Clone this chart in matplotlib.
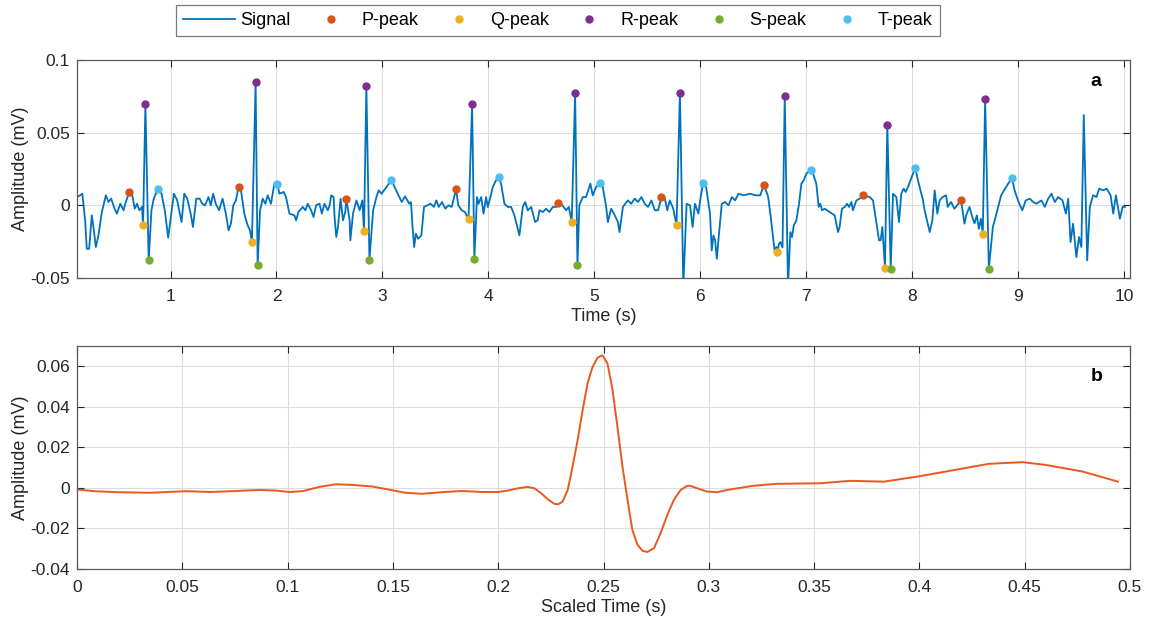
import matplotlib
matplotlib.use("Agg")
import matplotlib.pyplot as plt
from matplotlib.ticker import FuncFormatter

plt.rcParams['font.family'] = ['Liberation Sans', 'DejaVu Sans']
plt.rcParams['axes.unicode_minus'] = False

# ECG signal (panel a)
sig_t = [0.118, 0.146, 0.168, 0.194, 0.21, 0.232, 0.257, 0.273, 0.295, 0.32, 0.352, 0.39, 0.415, 0.44,
         0.472, 0.494, 0.526, 0.557, 0.573, 0.611, 0.636, 0.662, 0.684, 0.706, 0.731, 0.741, 0.763, 0.794,
         0.82, 0.842, 0.883, 0.915, 0.946, 0.978, 1.009, 1.032, 1.063, 1.085, 1.104, 1.13, 1.158, 1.19,
         1.212, 1.243, 1.275, 1.3, 1.326, 1.358, 1.38, 1.402, 1.427, 1.459, 1.491, 1.522, 1.548, 1.57,
         1.592, 1.617, 1.642, 1.665, 1.696, 1.728, 1.75, 1.768, 1.803, 1.822, 1.845, 1.87, 1.895, 1.917,
         1.948, 1.98, 2.008, 2.027, 2.068, 2.09, 2.122, 2.169, 2.185, 2.207, 2.248, 2.273, 2.295, 2.327,
         2.349, 2.374, 2.406, 2.428, 2.453, 2.485, 2.501, 2.517, 2.539, 2.548, 2.564, 2.58, 2.605, 2.627,
         2.649, 2.659, 2.69, 2.697, 2.722, 2.754, 2.785, 2.81, 2.826, 2.848, 2.877, 2.912, 2.943, 2.965,
         2.991, 3.038, 3.085, 3.114, 3.16, 3.182, 3.213, 3.253, 3.269, 3.284, 3.299, 3.315, 3.336, 3.367,
         3.392, 3.423, 3.454, 3.485, 3.509, 3.531, 3.562, 3.593, 3.623, 3.654, 3.694, 3.716, 3.747, 3.778,
         3.812, 3.846, 3.867, 3.892, 3.907, 3.932, 3.954, 3.978, 3.994, 4.019, 4.041, 4.072, 4.097, 4.119,
         4.151, 4.182, 4.214, 4.245, 4.292, 4.324, 4.346, 4.371, 4.403, 4.44, 4.465, 4.481, 4.513, 4.544,
         4.575, 4.607, 4.638, 4.66, 4.686, 4.733, 4.758, 4.786, 4.818, 4.84, 4.858, 4.89, 4.921, 4.962,
         4.984, 5.016, 5.054, 5.079, 5.111, 5.127, 5.158, 5.184, 5.222, 5.237, 5.269, 5.316, 5.348, 5.38,
         5.411, 5.443, 5.475, 5.506, 5.538, 5.57, 5.601, 5.633, 5.665, 5.687, 5.712, 5.744, 5.775, 5.807,
         5.839, 5.87, 5.902, 5.927, 5.949, 5.981, 6.003, 6.025, 6.054, 6.091, 6.107, 6.123, 6.139, 6.155,
         6.17, 6.202, 6.233, 6.265, 6.297, 6.328, 6.36, 6.407, 6.47, 6.517, 6.565, 6.6, 6.64, 6.66,
         6.686, 6.7, 6.717, 6.726, 6.742, 6.755, 6.775, 6.796, 6.827, 6.849, 6.865, 6.881, 6.906, 6.931,
         6.953, 6.975, 7.0, 7.044, 7.063, 7.094, 7.116, 7.132, 7.148, 7.173, 7.22, 7.267, 7.299, 7.314,
         7.336, 7.362, 7.384, 7.403, 7.425, 7.44, 7.472, 7.503, 7.538, 7.597, 7.629, 7.66, 7.686, 7.701,
         7.717, 7.742, 7.764, 7.796, 7.818, 7.849, 7.874, 7.896, 7.918, 7.937, 7.959, 8.028, 8.053, 8.101,
         8.116, 8.164, 8.189, 8.211, 8.236, 8.258, 8.286, 8.318, 8.334, 8.365, 8.397, 8.46, 8.492, 8.508,
         8.539, 8.571, 8.587, 8.609, 8.628, 8.647, 8.665, 8.687, 8.722, 8.76, 8.79, 8.838, 8.885, 8.94,
         8.965, 8.997, 9.038, 9.07, 9.108, 9.14, 9.171, 9.218, 9.25, 9.282, 9.313, 9.345, 9.376, 9.417,
         9.449, 9.471, 9.493, 9.517, 9.548, 9.573, 9.595, 9.618, 9.65, 9.675, 9.706, 9.738, 9.763, 9.801,
         9.833, 9.871, 9.896, 9.921, 9.959, 9.984, 10.006]
sig_v = [0.0057, 0.0069, 0.008, -0.0103, -0.0299, -0.0299, -0.0069, -0.015, -0.0287, -0.0207, -0.0046, 0.0069,
         0.0023, 0.0046, -0.0023, -0.0057, 0.0011, -0.0034, 0.0011, 0.0092, 0.008, -0.0023, 0.0011, -0.0034,
         -0.0011, -0.0138, 0.0697, -0.0379, -0.0034, 0.0046, 0.0115, 0.008, -0.0034, -0.0223, -0.0046, 0.008,
         0.0034, -0.0046, -0.0115, 0.008, 0.0046, -0.0057, -0.0149, 0.0046, 0.0046, 0.0011, 0.0, 0.0057,
         0.0, 0.008, 0.0011, -0.0034, 0.0046, -0.0057, -0.0172, -0.0126, 0.0, 0.0034, 0.0126, 0.0103,
         -0.0057, -0.0138, -0.0172, -0.0253, 0.0846, -0.0414, -0.0034, 0.0046, 0.0011, 0.0069, 0.0011, 0.0149,
         0.015, 0.008, 0.0092, 0.0057, -0.0057, -0.0069, -0.0103, -0.0046, -0.0011, -0.0034, 0.0011, -0.0034,
         -0.008, 0.0, 0.0011, -0.0057, 0.0011, -0.0034, 0.0, 0.0069, 0.0057, -0.008, -0.0218, -0.0149,
         0.0046, -0.0103, -0.0046, 0.0046, -0.0103, -0.0241, -0.0057, 0.0034, -0.0034, 0.0034, -0.018, 0.0823,
         -0.0375, -0.0034, 0.0057, 0.0103, 0.008, 0.0126, 0.0177, 0.0126, 0.0057, 0.0023, 0.0062, 0.0011,
         0.0023, -0.0149, -0.0287, -0.0195, -0.023, -0.0207, -0.0011, 0.0, 0.0011, -0.0011, 0.0034, -0.0011,
         0.0023, -0.0023, 0.0, -0.0011, 0.011, 0.0, -0.0034, -0.0046, -0.0097, 0.0694, -0.0368, 0.0057,
         0.0011, 0.0057, -0.0057, 0.0057, -0.0011, 0.0057, 0.0126, 0.0172, 0.0195, 0.0149, 0.0011, -0.0011,
         -0.0011, -0.0069, -0.0207, -0.0011, 0.0023, -0.0034, -0.0011, -0.0115, -0.0103, -0.0034, -0.0046, -0.0023,
         -0.0046, -0.0011, -0.0011, 0.0014, 0.0011, -0.0034, -0.0011, -0.0115, 0.0775, -0.0414, 0.0, 0.0057,
         0.0057, 0.0149, 0.0069, 0.0126, 0.0156, 0.0126, -0.0011, -0.0115, -0.0023, -0.0057, -0.0115, -0.0184,
         -0.0011, 0.0034, 0.0011, 0.0046, 0.0023, 0.0057, 0.0011, -0.0011, 0.0034, -0.0034, -0.0034, 0.0055,
         0.0046, -0.0034, 0.0034, -0.0023, -0.0138, 0.0775, -0.056, 0.0011, 0.0, -0.0149, 0.0011, -0.0057,
         0.0057, 0.0154, 0.0126, -0.0057, -0.031, -0.0207, -0.0241, -0.0368, -0.0241, 0.0011, 0.0023, 0.0,
         0.0057, 0.0034, 0.008, 0.0069, 0.008, 0.0069, 0.0069, 0.0143, 0.0057, -0.0057, -0.0218, -0.031,
         -0.0287, -0.0322, -0.0264, -0.0253, -0.029, 0.0754, -0.056, -0.0184, -0.0218, -0.0138, -0.0103, 0.0011,
         0.0149, 0.0172, 0.0218, 0.0244, 0.0218, 0.0149, -0.0011, 0.0011, -0.0034, -0.0023, -0.0046, -0.0069,
         -0.0184, -0.0149, -0.0023, -0.0011, 0.0011, -0.0011, 0.0023, -0.0034, 0.0034, 0.0046, 0.0069, 0.0057,
         0.0034, -0.0115, -0.0241, -0.0241, -0.0149, -0.043, 0.0556, -0.0439, 0.008, 0.0057, -0.0115, 0.008,
         0.0115, 0.0092, 0.0126, 0.026, 0.0172, 0.0034, -0.0034, -0.0184, -0.0103, 0.0103, -0.0057, 0.0034,
         0.0057, 0.0069, -0.0011, 0.0023, -0.0023, 0.0034, -0.0126, -0.0069, -0.0011, -0.0092, -0.0124, -0.0069,
         -0.0161, -0.0092, -0.0195, 0.0731, -0.0437, -0.0149, -0.0069, 0.0069, 0.0126, 0.0191, 0.0103, 0.0034,
         -0.0034, 0.0034, 0.0046, 0.0023, 0.0011, 0.0034, -0.0011, 0.0046, 0.008, 0.0023, 0.0057, 0.0034,
         -0.0057, 0.0046, -0.0253, -0.0126, -0.0356, -0.0218, -0.0287, 0.0621, -0.0379, -0.0011, 0.0069, 0.0057,
         0.0115, 0.0103, 0.0115, 0.0069, -0.0057, 0.0069, -0.0092, -0.0011, -0.0011]

# detected peaks
p_t = [0.611, 1.642, 2.659, 3.694, 4.66, 5.633, 6.6, 7.538, 8.46]
p_v = [0.0092, 0.0126, 0.0046, 0.011, 0.0014, 0.0055, 0.0143, 0.0069, 0.0034]
q_t = [0.741, 1.768, 2.826, 3.812, 4.786, 5.775, 6.726, 7.742, 8.665]
q_v = [-0.0138, -0.0253, -0.018, -0.0097, -0.0115, -0.0138, -0.0322, -0.043, -0.0195]
r_t = [0.763, 1.803, 2.848, 3.846, 4.818, 5.807, 6.796, 7.764, 8.687]
r_v = [0.0697, 0.0846, 0.0823, 0.0694, 0.0775, 0.0775, 0.0754, 0.0556, 0.0731]
s_t = [0.794, 1.822, 2.877, 3.867, 4.84, 7.796, 8.722]
s_v = [-0.0379, -0.0414, -0.0375, -0.0368, -0.0414, -0.0439, -0.0437]
t_t = [0.883, 2.008, 3.085, 4.097, 5.054, 6.025, 7.044, 8.028, 8.94]
t_v = [0.0115, 0.015, 0.0177, 0.0195, 0.0156, 0.0154, 0.0244, 0.026, 0.0191]

# averaged beat (panel b)
beat_t = [0.0, 0.0079, 0.0189, 0.0347, 0.052, 0.063, 0.074, 0.0866, 0.0945, 0.1008, 0.1071, 0.115,
          0.1229, 0.1307, 0.1402, 0.148, 0.1559, 0.1638, 0.1733, 0.1827, 0.1922, 0.2, 0.2046, 0.2093,
          0.214, 0.2172, 0.2204, 0.2235, 0.2267, 0.2286, 0.2306, 0.233, 0.2353, 0.2377, 0.2401, 0.2424,
          0.2448, 0.2472, 0.2495, 0.2519, 0.2543, 0.2566, 0.259, 0.2614, 0.2637, 0.2661, 0.2685, 0.2708,
          0.274, 0.2771, 0.2803, 0.2834, 0.2866, 0.2897, 0.2913, 0.2945, 0.2992, 0.3039, 0.3087, 0.3208,
          0.3315, 0.3528, 0.3671, 0.3831, 0.3991, 0.417, 0.433, 0.449, 0.4596, 0.4774, 0.4943]
beat_v = [-0.0008, -0.0016, -0.0021, -0.0024, -0.0016, -0.002, -0.0016, -0.001, -0.0013, -0.002, -0.0016, 0.0005,
          0.0018, 0.0015, 0.0007, -0.0008, -0.0024, -0.0029, -0.0021, -0.0015, -0.002, -0.002, -0.0013, -0.0002,
          0.0005, -0.0002, -0.0026, -0.0056, -0.0079, -0.008, -0.0067, -0.001, 0.0105, 0.0236, 0.0384, 0.0515,
          0.0597, 0.0643, 0.0654, 0.0613, 0.0482, 0.0302, 0.0105, -0.0059, -0.0207, -0.028, -0.031, -0.0316,
          -0.0297, -0.0223, -0.0133, -0.0059, -0.001, 0.001, 0.001, -0.0002, -0.0018, -0.0021, -0.001, 0.001,
          0.002, 0.0023, 0.0035, 0.0031, 0.0056, 0.0089, 0.0119, 0.0127, 0.0114, 0.0081, 0.0031]

fmt = FuncFormatter(lambda v, p: '%g' % round(v, 4))


def style(ax):
    ax.grid(True, color='#dcdcdc', linewidth=0.8)
    ax.set_axisbelow(True)
    ax.tick_params(direction='in', top=True, right=True, labelsize=12.5,
                   colors='#262626', length=5, width=0.8, pad=5)
    ax.tick_params(axis='x', pad=8)
    for s in ax.spines.values():
        s.set_color('#5a5a5a')
        s.set_linewidth(0.9)
    ax.xaxis.set_major_formatter(fmt)
    ax.yaxis.set_major_formatter(fmt)


fig = plt.figure(figsize=(11.5, 6.24), dpi=100)
ax1 = fig.add_axes([0.067, 0.5545, 0.9156, 0.3493])
ax2 = fig.add_axes([0.067, 0.0881, 0.9156, 0.3574])

h_sig, = ax1.plot(sig_t, sig_v, color='#0072BD', lw=1.3, label='Signal')
ms = 5
h_p, = ax1.plot(p_t, p_v, 'o', ls='none', color='#D95319', ms=ms, label='P-peak')
h_q, = ax1.plot(q_t, q_v, 'o', ls='none', color='#EDB120', ms=ms, label='Q-peak')
h_r, = ax1.plot(r_t, r_v, 'o', ls='none', color='#7E2F8E', ms=ms, label='R-peak')
h_s, = ax1.plot(s_t, s_v, 'o', ls='none', color='#77AC30', ms=ms, label='S-peak')
h_tp, = ax1.plot(t_t, t_v, 'o', ls='none', color='#4DBEEE', ms=ms, label='T-peak')
ax1.set_xlim(0.118, 10.054)
ax1.set_ylim(-0.05, 0.1)
ax1.set_xticks(range(1, 11))
ax1.set_yticks([-0.05, 0, 0.05, 0.1])
style(ax1)
ax1.set_xlabel('Time (s)', fontsize=13, color='#262626', labelpad=3)
ax1.set_ylabel('Amplitude (mV)', fontsize=13, color='#262626', labelpad=1)
ax1.text(0.968, 0.9, 'a', transform=ax1.transAxes, fontsize=14, fontweight='bold', ha='center', va='center')

ax2.plot(beat_t, beat_v, color='#E8591F', lw=1.4)
ax2.set_xlim(0, 0.5)
ax2.set_ylim(-0.04, 0.07)
ax2.set_xticks([0, 0.05, 0.1, 0.15, 0.2, 0.25, 0.3, 0.35, 0.4, 0.45, 0.5])
ax2.set_yticks([-0.04, -0.02, 0, 0.02, 0.04, 0.06])
style(ax2)
ax2.set_xlabel('Scaled Time (s)', fontsize=13, color='#262626', labelpad=3)
ax2.set_ylabel('Amplitude (mV)', fontsize=13, color='#262626', labelpad=1)
ax2.text(0.968, 0.865, 'b', transform=ax2.transAxes, fontsize=14, fontweight='bold', ha='center', va='center')

leg = fig.legend(handles=[h_sig, h_p, h_q, h_r, h_s, h_tp], loc='upper center', ncol=6,
                 bbox_to_anchor=(0.485, 0.992), borderaxespad=0, fontsize=13, frameon=True,
                 fancybox=False, edgecolor='#5a5a5a', handlelength=2.9, columnspacing=0.8,
                 borderpad=0.4, handletextpad=0.25)
leg.get_frame().set_linewidth(0.9)

fig.savefig('out.png', dpi=100)
